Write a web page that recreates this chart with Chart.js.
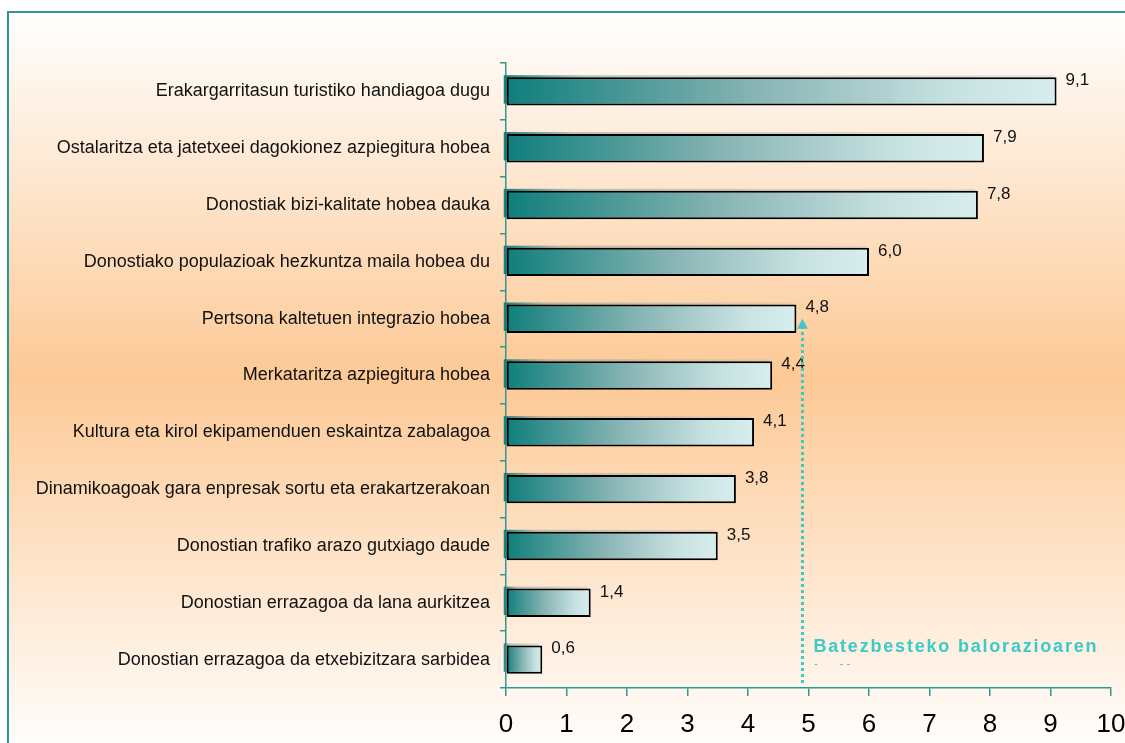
<!DOCTYPE html>
<html>
<head>
<meta charset="utf-8">
<script src="https://cdn.jsdelivr.net/npm/chart.js@4.4.1/dist/chart.umd.min.js"></script>
<style>
  html, body { margin: 0; padding: 0; background: #fff; }
  canvas { display: block; }
</style>
</head>
<body>
<canvas id="chart" width="1125" height="743"></canvas>
<script>
// data
const categories = [
    'Erakargarritasun turistiko handiagoa dugu',
    'Ostalaritza eta jatetxeei dagokionez azpiegitura hobea',
    'Donostiak bizi-kalitate hobea dauka',
    'Donostiako populazioak hezkuntza maila hobea du',
    'Pertsona kaltetuen integrazio hobea',
    'Merkataritza azpiegitura hobea',
    'Kultura eta kirol ekipamenduen eskaintza zabalagoa',
    'Dinamikoagoak gara enpresak sortu eta erakartzerakoan',
    'Donostian trafiko arazo gutxiago daude',
    'Donostian errazagoa da lana aurkitzea',
    'Donostian errazagoa da etxebizitzara sarbidea'
];
const values = [9.1, 7.9, 7.8, 6.0, 4.8, 4.4, 4.1, 3.8, 3.5, 1.4, 0.6];
const xTicks = [0, 1, 2, 3, 4, 5, 6, 7, 8, 9, 10];
const averageValue = 4.9;
const averageLabel = ['Batezbesteko balorazioaren', 'indizea'];

const TEAL = '#2e9896';
const CYAN = '#3ccac8';
const FONT = '"Liberation Sans", Arial, sans-serif';

const fmt = v => v.toFixed(1).replace('.', ',');

// gradient background + frame
const backgroundPlugin = {
    id: 'background',
    beforeDraw(chart) {
        const ctx = chart.ctx;
        const w = chart.width, h = chart.height;
        const g = ctx.createLinearGradient(0, 12, 0, h);
        g.addColorStop(0, '#ffffff');
        g.addColorStop(0.5, '#fdc996');
        g.addColorStop(1, '#fffdfb');
        ctx.save();
        ctx.fillStyle = '#ffffff';
        ctx.fillRect(0, 0, w, h);
        ctx.fillStyle = g;
        ctx.fillRect(8, 12, w - 8, h - 12);
        ctx.strokeStyle = TEAL;
        ctx.lineWidth = 2;
        ctx.beginPath();
        ctx.moveTo(8, h);
        ctx.lineTo(8, 12);
        ctx.lineTo(w, 12);
        ctx.stroke();
        ctx.restore();
    }
};

// back face of each bar (small 3d offset)
const barBackPlugin = {
    id: 'barBack',
    beforeDatasetsDraw(chart) {
        const ctx = chart.ctx;
        const meta = chart.getDatasetMeta(0);
        ctx.save();
        meta.data.forEach(bar => {
            const top = bar.y - bar.height / 2 - 2;
            const left = bar.base - 3;
            const g = ctx.createLinearGradient(left, 0, bar.x, 0);
            g.addColorStop(0, '#177f7d');
            g.addColorStop(0.15, 'rgba(120,150,150,0.5)');
            g.addColorStop(1, 'rgba(190,190,190,0.35)');
            ctx.fillStyle = g;
            ctx.fillRect(left, top, bar.x - bar.base, bar.height);
        });
        ctx.restore();
    }
};

// value labels, average arrow and its caption
const overlayPlugin = {
    id: 'overlay',
    afterDatasetsDraw(chart) {
        const ctx = chart.ctx;
        const meta = chart.getDatasetMeta(0);
        const xs = chart.scales.x, ys = chart.scales.y;

        ctx.save();
        ctx.fillStyle = '#111';
        ctx.font = '17px ' + FONT;
        ctx.textAlign = 'left';
        ctx.textBaseline = 'alphabetic';
        meta.data.forEach((bar, i) => {
            ctx.fillText(fmt(values[i]), bar.x + 9, bar.y - bar.height / 2 + 8);
        });

        // arrow from axis to the bar closest to the average
        let target = 0;
        values.forEach((v, i) => {
            if (Math.abs(v - averageValue) < Math.abs(values[target] - averageValue)) target = i;
        });
        const ax = xs.getPixelForValue(averageValue);
        const tipY = ys.getPixelForValue(target);
        const bottom = chart.chartArea.bottom - 5;
        ctx.strokeStyle = CYAN;
        ctx.lineWidth = 3;
        ctx.setLineDash([3, 3]);
        ctx.beginPath();
        ctx.moveTo(ax, bottom);
        ctx.lineTo(ax, tipY + 9);
        ctx.stroke();
        ctx.setLineDash([]);
        ctx.fillStyle = CYAN;
        ctx.beginPath();
        ctx.moveTo(ax, tipY);
        ctx.lineTo(ax - 5.5, tipY + 10);
        ctx.lineTo(ax + 5.5, tipY + 10);
        ctx.closePath();
        ctx.fill();

        // caption, second line cut off as in the original
        ctx.font = 'bold 18px ' + FONT;
        ctx.letterSpacing = '1.8px';
        ctx.fillText(averageLabel[0], ax + 11, 652);
        ctx.beginPath();
        ctx.rect(0, 0, chart.width, 665);
        ctx.clip();
        ctx.fillText(averageLabel[1], ax + 11, 677);
        ctx.restore();
    }
};

new Chart(document.getElementById('chart'), {
    type: 'bar',
    data: {
        labels: categories,
        datasets: [{
            data: values,
            backgroundColor: (c) => {
                const chart = c.chart;
                if (!chart.chartArea || c.raw === undefined) return '#5fa3a2';
                const xs = chart.scales.x;
                const x0 = xs.getPixelForValue(0);
                const x1 = xs.getPixelForValue(c.raw);
                const g = chart.ctx.createLinearGradient(x0, 0, x1, 0);
                g.addColorStop(0, '#0f7e7c');
                g.addColorStop(0.45, '#86b4b3');
                g.addColorStop(0.8, '#c6e0e0');
                g.addColorStop(1, '#d8eeee');
                return g;
            },
            borderColor: '#000',
            borderWidth: 2,
            borderSkipped: false,
            barPercentage: 0.5,
            categoryPercentage: 1
        }]
    },
    options: {
        indexAxis: 'y',
        responsive: false,
        animation: false,
        layout: { padding: { top: 63, left: 0, right: 14, bottom: 0 } },
        plugins: {
            legend: { display: false },
            tooltip: { enabled: false }
        },
        scales: {
            x: {
                min: 0,
                max: 10,
                afterBuildTicks: (scale) => { scale.ticks = xTicks.map(v => ({ value: v })); },
                afterFit: (scale) => {
                    scale.height = 55;
                    scale.paddingRight = 0;
                },
                grid: { drawOnChartArea: false, tickLength: 8, color: TEAL, lineWidth: 1.5 },
                border: { color: TEAL, width: 1.5 },
                ticks: {
                    color: '#000',
                    font: { family: FONT, size: 26 },
                    padding: 13,
                    maxRotation: 0
                }
            },
            y: {
                afterFit: (scale) => { scale.width = 506; },
                grid: { drawOnChartArea: false, tickLength: 6, color: TEAL, lineWidth: 1.5 },
                border: { color: TEAL, width: 1.5 },
                ticks: {
                    color: '#111',
                    font: { family: FONT, size: 18 },
                    padding: 10
                }
            }
        }
    },
    plugins: [backgroundPlugin, barBackPlugin, overlayPlugin]
});
</script>
</body>
</html>
